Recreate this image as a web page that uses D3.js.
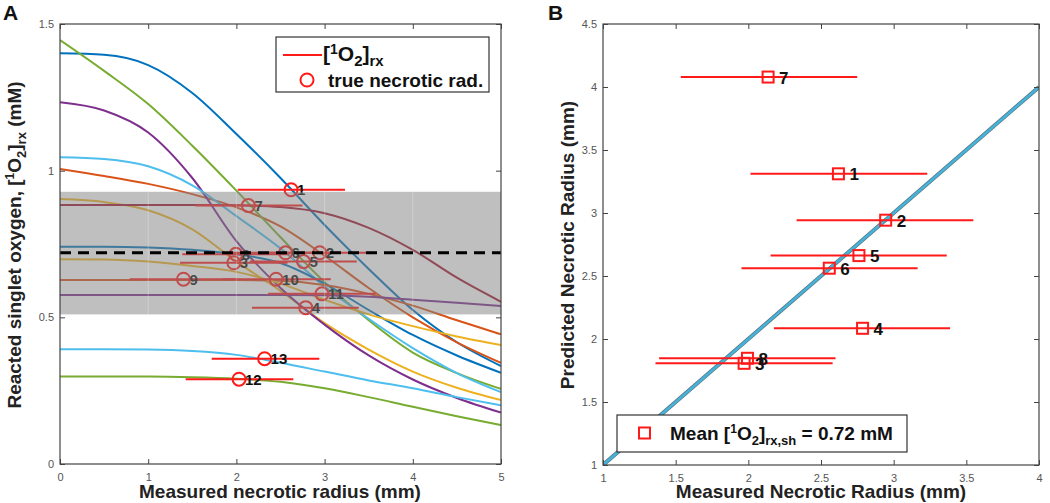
<!DOCTYPE html>
<html>
<head>
<meta charset="utf-8">
<script src="https://cdn.jsdelivr.net/npm/d3@7"></script>
<style>
  html, body { margin: 0; padding: 0; background: #fff; }
  svg { display: block; font-family: "Liberation Sans", Arial, Helvetica, sans-serif; }
</style>
</head>
<body>
<svg id="chart" width="1050" height="503"></svg>
<script>
// ---------------- DATA ----------------
const tumorIds = [1,2,3,4,5,6,7,8,9,10,11,12,13];
const radiusGrid = [0,0.5,1,1.5,2,2.5,3,3.5,4,4.5,5];
// reacted singlet oxygen profiles (mM) vs radius (mm), one per tumor
const curveT1  = [1.400,1.395,1.360,1.265,1.125,0.975,0.815,0.665,0.525,0.415,0.334];
const curveT2  = [1.006,0.982,0.955,0.920,0.875,0.810,0.710,0.600,0.500,0.415,0.345];
const curveT3  = [0.903,0.893,0.865,0.800,0.690,0.590,0.480,0.390,0.315,0.260,0.218];
const curveT4  = [1.233,1.205,1.130,0.975,0.760,0.600,0.475,0.370,0.288,0.225,0.175];
const curveT5  = [1.445,1.340,1.227,1.085,0.932,0.773,0.620,0.490,0.380,0.310,0.256];
const curveT6  = [1.046,1.040,1.015,0.950,0.845,0.735,0.605,0.495,0.395,0.310,0.245];
const curveT7  = [0.883,0.883,0.883,0.883,0.882,0.876,0.855,0.805,0.730,0.635,0.553];
const curveT8  = [0.741,0.741,0.738,0.730,0.715,0.685,0.615,0.525,0.440,0.370,0.311];
const curveT9  = [0.627,0.627,0.627,0.627,0.627,0.625,0.610,0.580,0.540,0.490,0.442];
const curveT10 = [0.698,0.697,0.690,0.675,0.655,0.615,0.560,0.510,0.470,0.435,0.406];
const curveT11 = [0.576,0.576,0.576,0.576,0.576,0.576,0.575,0.570,0.560,0.550,0.539];
const curveT12 = [0.298,0.298,0.298,0.296,0.291,0.280,0.258,0.228,0.195,0.163,0.133];
const curveT13 = [0.391,0.391,0.390,0.385,0.372,0.345,0.315,0.285,0.258,0.228,0.200];
const allCurves = [curveT1,curveT2,curveT3,curveT4,curveT5,curveT6,curveT7,curveT8,curveT9,curveT10,curveT11,curveT12,curveT13];

// measured (true) necrotic radius and [1O2]rx at it
const trueRadius   = [2.62,2.945,1.971,2.786,2.761,2.557,2.136,1.994,1.40,2.45,2.97,2.03,2.32];
const circleValue  = [0.935,0.72,0.686,0.533,0.69,0.72,0.881,0.715,0.63,0.63,0.58,0.289,0.359];
const radiusLow    = [2.015,2.332,1.361,2.176,2.153,1.953,1.535,1.386,0.79,1.845,2.36,1.425,1.72];
const radiusHigh   = [3.231,3.548,2.580,3.388,3.365,3.165,2.749,2.600,2.01,3.07,3.58,2.645,2.94];
// predicted radius (panel B); null = not shown
const predictedRadius = [3.311,2.943,1.807,2.085,2.662,2.562,4.079,1.847,null,null,null,null,null];

const meanThreshold = 0.72;
const bandLow = 0.51, bandHigh = 0.928;

const xTicksA = [0,1,2,3,4,5];
const yTicksA = [0,0.5,1,1.5];
const xTicksB = [1,1.5,2,2.5,3,3.5,4];
const yTicksB = [1,1.5,2,2.5,3,3.5,4,4.5];
const identityLine = [1,4];

// ---------------- STYLE ----------------
const palette = ["#0072BD","#D95319","#EDB120","#7E2F8E","#77AC30","#4DBEEE","#A2142F"];
const svg = d3.select("#chart");

const xA = d3.scaleLinear([0,5],[60,501]);
const yA = d3.scaleLinear([0,1.5],[464,24]);
const xB = d3.scaleLinear([1,4],[603,1039]);
const yB = d3.scaleLinear([1,4.5],[465,24]);

function drawAxes(x, y, xt, yt) {
  const [x0,x1] = x.range(), [y0,y1] = y.range();
  const fmt = d => String(d);
  const g = svg.append("g");
  g.append("g").attr("transform",`translate(0,${y0})`)
    .call(d3.axisBottom(x).tickValues(xt).tickSize(-5).tickPadding(9).tickFormat(fmt));
  g.append("g").attr("transform",`translate(0,${y1})`)
    .call(d3.axisTop(x).tickValues(xt).tickSize(-5).tickFormat(""));
  g.append("g").attr("transform",`translate(${x0},0)`)
    .call(d3.axisLeft(y).tickValues(yt).tickSize(-5).tickPadding(6).tickFormat(fmt));
  g.append("g").attr("transform",`translate(${x1},0)`)
    .call(d3.axisRight(y).tickValues(yt).tickSize(-5).tickFormat(""));
  g.selectAll(".domain").remove();
  g.selectAll(".tick line").attr("stroke","#444").attr("stroke-width",1);
  g.selectAll(".tick text").attr("fill","#555").style("font-size","11px");
  g.append("rect").attr("x",x0).attr("y",y1).attr("width",x1-x0).attr("height",y0-y1)
    .attr("fill","none").attr("stroke","#444").attr("stroke-width",1.2);
}

function o2Text(sel, prefix, sub, suffix, big, small) {
  if (prefix) sel.append("tspan").text(prefix);
  sel.append("tspan").text("1").style("font-size",(small-1)+"px").attr("dy",-7);
  sel.append("tspan").text("O").attr("dy",7);
  sel.append("tspan").text("2").style("font-size",small+"px").attr("dy",5);
  sel.append("tspan").text("]").attr("dy",-5);
  sel.append("tspan").text(sub).style("font-size",small+"px").attr("dy",5);
  if (suffix) sel.append("tspan").text(suffix).attr("dy",-5);
}

// ============ PANEL A ============
const gA = svg.append("g");
gA.append("defs").append("clipPath").attr("id","clipA")
  .append("rect").attr("x",60).attr("y",24).attr("width",441).attr("height",440);
const plotA = gA.append("g").attr("clip-path","url(#clipA)");

const lineA = d3.line().x((d,i)=>xA(radiusGrid[i])).y(d=>yA(d)).curve(d3.curveMonotoneX);
allCurves.forEach((c,i)=>{
  plotA.append("path").attr("d",lineA(c)).attr("fill","none")
    .attr("stroke",palette[i%7]).attr("stroke-width",2);
});
tumorIds.forEach((id,i)=>{
  plotA.append("line").attr("x1",xA(radiusLow[i])).attr("x2",xA(radiusHigh[i]))
    .attr("y1",yA(circleValue[i])).attr("y2",yA(circleValue[i]))
    .attr("stroke","#ff1a1a").attr("stroke-width",2);
});
tumorIds.forEach((id,i)=>{
  plotA.append("circle").attr("cx",xA(trueRadius[i])).attr("cy",yA(circleValue[i]))
    .attr("r",6.5).attr("fill","none").attr("stroke","#ff1a1a").attr("stroke-width",2);
  plotA.append("text").attr("x",xA(trueRadius[i])+6).attr("y",yA(circleValue[i])+5.5)
    .text(id).attr("fill","#111").style("font-size","15px").style("font-weight","bold");
});
plotA.append("rect").attr("x",xA(0)).attr("width",xA(5)-xA(0))
  .attr("y",yA(bandHigh)).attr("height",yA(bandLow)-yA(bandHigh))
  .attr("fill","#808080").attr("fill-opacity",0.5);
xTicksA.slice(1,5).forEach(t=>{
  plotA.append("line").attr("x1",xA(t)).attr("x2",xA(t)).attr("y1",yA(bandHigh)).attr("y2",yA(bandLow))
    .attr("stroke","#fff").attr("stroke-opacity",0.25).attr("stroke-width",1);
});
plotA.append("line").attr("x1",xA(0)).attr("x2",xA(5))
  .attr("y1",yA(meanThreshold)).attr("y2",yA(meanThreshold))
  .attr("stroke","#000").attr("stroke-width",3).attr("stroke-dasharray","11,7");

drawAxes(xA,yA,xTicksA,yTicksA);

// legend A
const legA = svg.append("g");
legA.append("rect").attr("x",276).attr("y",37).attr("width",213).attr("height",55)
  .attr("fill","#fff").attr("stroke","#333").attr("stroke-width",1.2);
legA.append("line").attr("x1",283).attr("x2",322).attr("y1",55).attr("y2",55)
  .attr("stroke","#ff1a1a").attr("stroke-width",2);
const tA1 = legA.append("text").attr("x",323).attr("y",61).style("font-size","21px").style("font-weight","bold").attr("fill","#111");
o2Text(tA1, "[", "rx", null, 21, 15);
legA.append("circle").attr("cx",307).attr("cy",80).attr("r",6.5).attr("fill","none")
  .attr("stroke","#ff1a1a").attr("stroke-width",2);
legA.append("text").attr("x",328).attr("y",87).text("true necrotic rad.")
  .style("font-size","19px").style("font-weight","bold").attr("fill","#111");

svg.append("text").attr("x",280).attr("y",498).attr("text-anchor","middle")
  .text("Measured necrotic radius (mm)").style("font-size","19px").style("font-weight","bold").attr("fill","#222");
const yLabA = svg.append("text").attr("transform","translate(21,245) rotate(-90)").attr("text-anchor","middle")
  .style("font-size","19px").style("font-weight","bold").attr("fill","#222");
o2Text(yLabA, "Reacted singlet oxygen, [", "rx", " (mM)", 19, 13);

svg.append("text").attr("x",3).attr("y",20).text("A").style("font-size","21px").style("font-weight","bold").attr("fill","#111");

// ============ PANEL B ============
const gB = svg.append("g");
gB.append("defs").append("clipPath").attr("id","clipB")
  .append("rect").attr("x",603).attr("y",24).attr("width",436).attr("height",441);
const plotB = gB.append("g").attr("clip-path","url(#clipB)");
plotB.append("line").attr("x1",xB(identityLine[0])).attr("y1",yB(identityLine[0]))
  .attr("x2",xB(identityLine[1])).attr("y2",yB(identityLine[1]))
  .attr("stroke","#5b7480").attr("stroke-width",4);
plotB.append("line").attr("x1",xB(identityLine[0])).attr("y1",yB(identityLine[0]))
  .attr("x2",xB(identityLine[1])).attr("y2",yB(identityLine[1]))
  .attr("stroke","#45b3d9").attr("stroke-width",2.6);

tumorIds.forEach((id,i)=>{
  if (predictedRadius[i] == null) return;
  const cy = yB(predictedRadius[i]);
  plotB.append("line").attr("x1",xB(radiusLow[i])).attr("x2",xB(radiusHigh[i]))
    .attr("y1",cy).attr("y2",cy).attr("stroke","#ff1a1a").attr("stroke-width",2);
});
tumorIds.forEach((id,i)=>{
  if (predictedRadius[i] == null) return;
  const cx = xB(trueRadius[i]), cy = yB(predictedRadius[i]);
  plotB.append("rect").attr("x",cx-5.5).attr("y",cy-5.5).attr("width",11).attr("height",11)
    .attr("fill","none").attr("stroke","#ff1a1a").attr("stroke-width",2);
  plotB.append("text").attr("x",cx+11).attr("y",cy+6.5).text(id)
    .style("font-size","17px").style("font-weight","bold").attr("fill","#111");
});

drawAxes(xB,yB,xTicksB,yTicksB);

// legend B
const legB = svg.append("g");
legB.append("rect").attr("x",617).attr("y",415).attr("width",290).attr("height",37)
  .attr("fill","#fff").attr("stroke","#333").attr("stroke-width",1.2);
legB.append("rect").attr("x",639).attr("y",427.5).attr("width",11).attr("height",11)
  .attr("fill","none").attr("stroke","#ff1a1a").attr("stroke-width",2);
const tB = legB.append("text").attr("x",670).attr("y",440).style("font-size","19px").style("font-weight","bold").attr("fill","#111");
o2Text(tB, "Mean [", "rx,sh", " = 0.72 mM", 19, 13);

svg.append("text").attr("x",821).attr("y",498).attr("text-anchor","middle")
  .text("Measured Necrotic Radius (mm)").style("font-size","19px").style("font-weight","bold").attr("fill","#222");
svg.append("text").attr("transform","translate(574,245) rotate(-90)").attr("text-anchor","middle")
  .text("Predicted Necrotic Radius (mm)").style("font-size","19px").style("font-weight","bold").attr("fill","#222");
svg.append("text").attr("x",548).attr("y",20).text("B").style("font-size","21px").style("font-weight","bold").attr("fill","#111");
</script>
</body>
</html>
